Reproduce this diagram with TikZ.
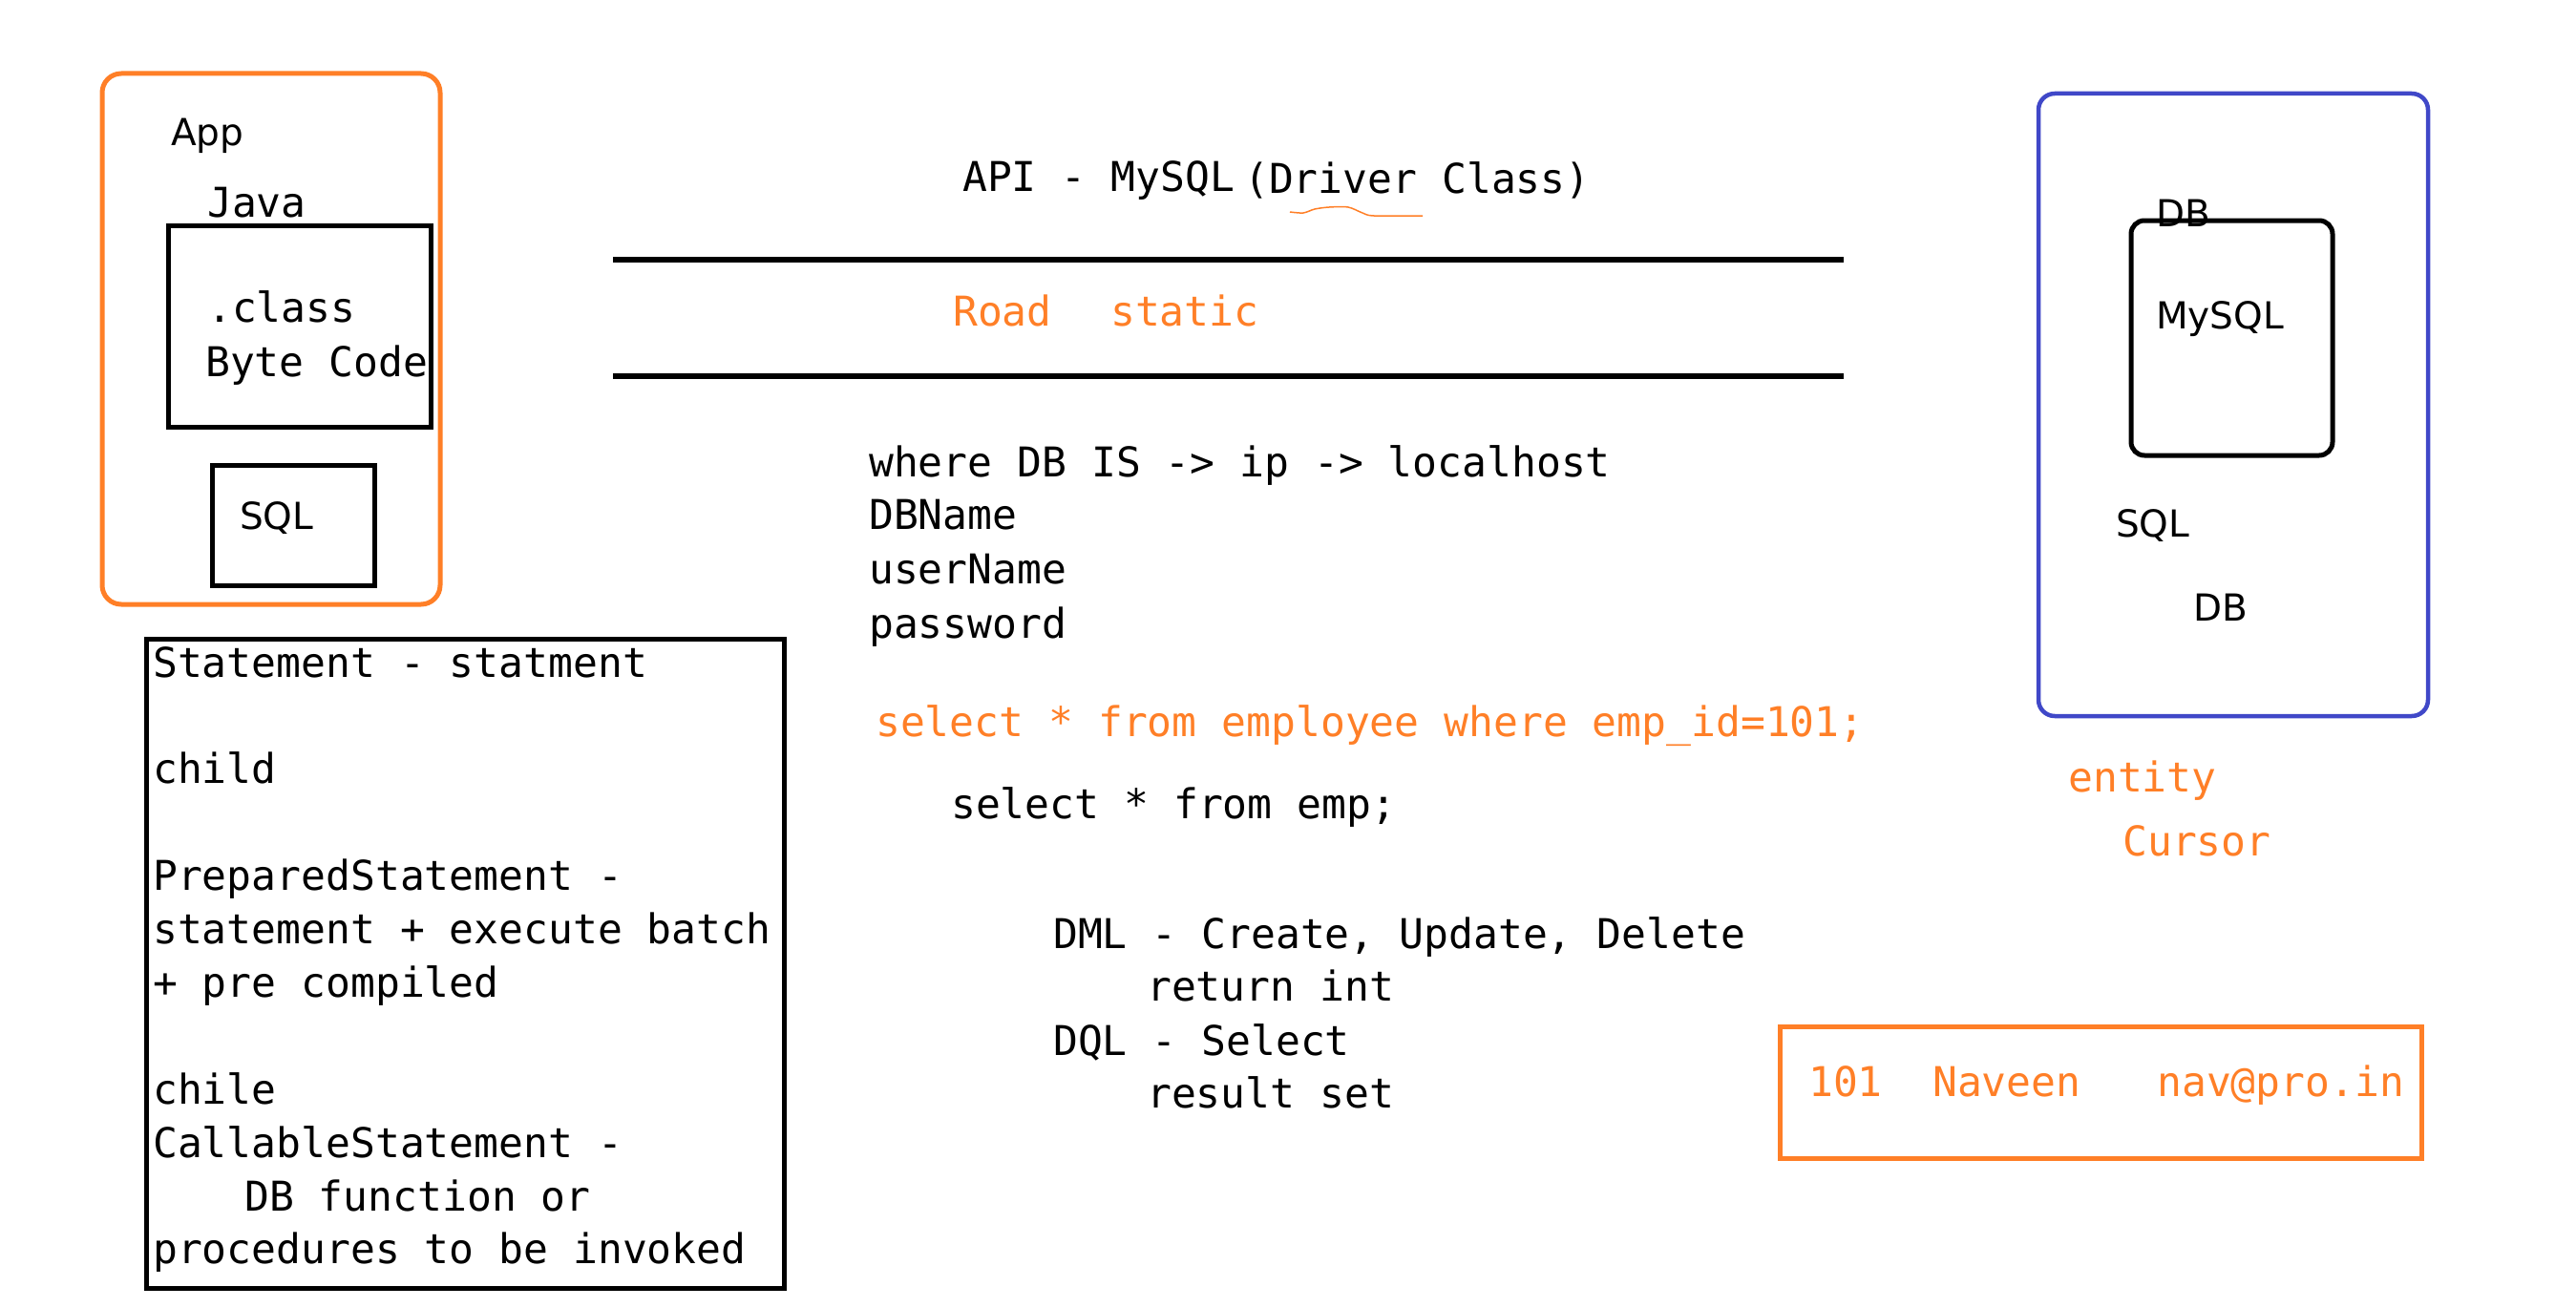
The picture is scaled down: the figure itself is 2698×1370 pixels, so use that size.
\documentclass[tikz,border=0pt]{standalone}
\usepackage{fontspec}
\newfontfamily\monof{DejaVu Sans Mono}
\newfontfamily\sansf{DejaVu Sans}
\definecolor{orng}{RGB}{255,127,39}
\definecolor{blu}{RGB}{64,72,200}
\tikzset{
  mono/.style={font=\monof\fontsize{43}{56}\selectfont, inner sep=0pt, anchor=base west},
  sanst/.style={font=\sansf\fontsize{39}{46}\selectfont, inner sep=0pt, anchor=base west},
  orangebox/.style={draw=orng, line width=5pt},
  blackbox/.style={draw=black, line width=5pt},
  rule/.style={draw=black, line width=5.5pt},
}
\begin{document}
\begin{tikzpicture}[x=1pt,y=-1pt]
\useasboundingbox (0,0) rectangle (2698,1370);
% left app box
\draw[orangebox, rounded corners=20pt] (107,77) rectangle (461,633);
\node[sanst] (app) at (179,153) {App};
\node[mono] (java) at (217,227) {Java};
\draw[blackbox] (176,236) rectangle (451,447);
\node[mono] (cls) at (217,337) {.class};
\node[mono] (bc) at (215,394) {Byte Code};
\draw[blackbox] (222,487) rectangle (392,613);
\node[sanst] (sqll) at (251,554) {SQL};
% statement box
\draw[blackbox] (153,669) rectangle (821,1349);
\node[mono] (s0) at (160,709) {Statement - statment};
\node[mono] (s2) at (160,820.8) {child};
\node[mono] (s4) at (160,932.6) {PreparedStatement -};
\node[mono] (s5) at (160,988.5) {statement + execute batch};
\node[mono] (s6) at (160,1044.4) {+ pre compiled};
\node[mono] (s8) at (160,1156.2) {chile};
\node[mono] (s9) at (160,1212.1) {CallableStatement -};
\node[mono] (s10) at (256,1268) {DB function or};
\node[mono] (s11) at (160,1323.9) {procedures to be invoked};
% middle
\node[mono] (api) at (1008,200) {API - MySQL};
\node[mono] (drv) at (1303,202) {(Driver Class)};
\draw[orng, line width=1.5pt] plot[smooth] coordinates {(1351,222) (1365,223) (1377,219) (1392,217) (1412,217) (1427,223) (1439,226) (1490,226)};
\draw[rule] (642,272) -- (1931,272);
\draw[rule] (642,394) -- (1931,394);
\node[mono, text=orng] (road) at (998,341) {Road};
\node[mono, text=orng] (stat) at (1163,341) {static};
\node[mono] (w1) at (910,499) {where DB IS -> ip -> localhost};
\node[mono] (w2) at (910,554) {DBName};
\node[mono] (w3) at (910,611) {userName};
\node[mono] (w4) at (910,668) {password};
\node[mono, text=orng] (sel1) at (917,771) {select * from employee where emp\_id=101;};
\node[mono] (sel2) at (996,857) {select * from emp;};
\node[mono] (dml) at (1103,993) {DML - Create, Update, Delete};
\node[mono] (ret) at (1201,1048) {return int};
\node[mono] (dql) at (1103,1105) {DQL - Select};
\node[mono] (rs) at (1201,1160) {result set};
% right db box
\draw[draw=blu, line width=4.5pt, rounded corners=17pt] (2135,98) rectangle (2543,750);
\node[sanst] (db1) at (2258,237) {DB};
\draw[blackbox, rounded corners=14pt] (2232,231) rectangle (2443,477);
\node[sanst] (mysql) at (2258,344) {MySQL};
\node[sanst] (sqlr) at (2216,562) {SQL};
\node[sanst] (db2) at (2297,650) {DB};
\node[mono, text=orng] (ent) at (2166,829) {entity};
\node[mono, text=orng] (cur) at (2223,896) {Cursor};
% record box
\draw[orangebox] (1864,1075) rectangle (2536,1213);
\node[mono, text=orng] (r1) at (1894,1148) {101};
\node[mono, text=orng] (r2) at (2024,1148) {Naveen};
\node[mono, text=orng] (r3) at (2259,1148) {nav@pro.in};
\end{tikzpicture}
\end{document}
